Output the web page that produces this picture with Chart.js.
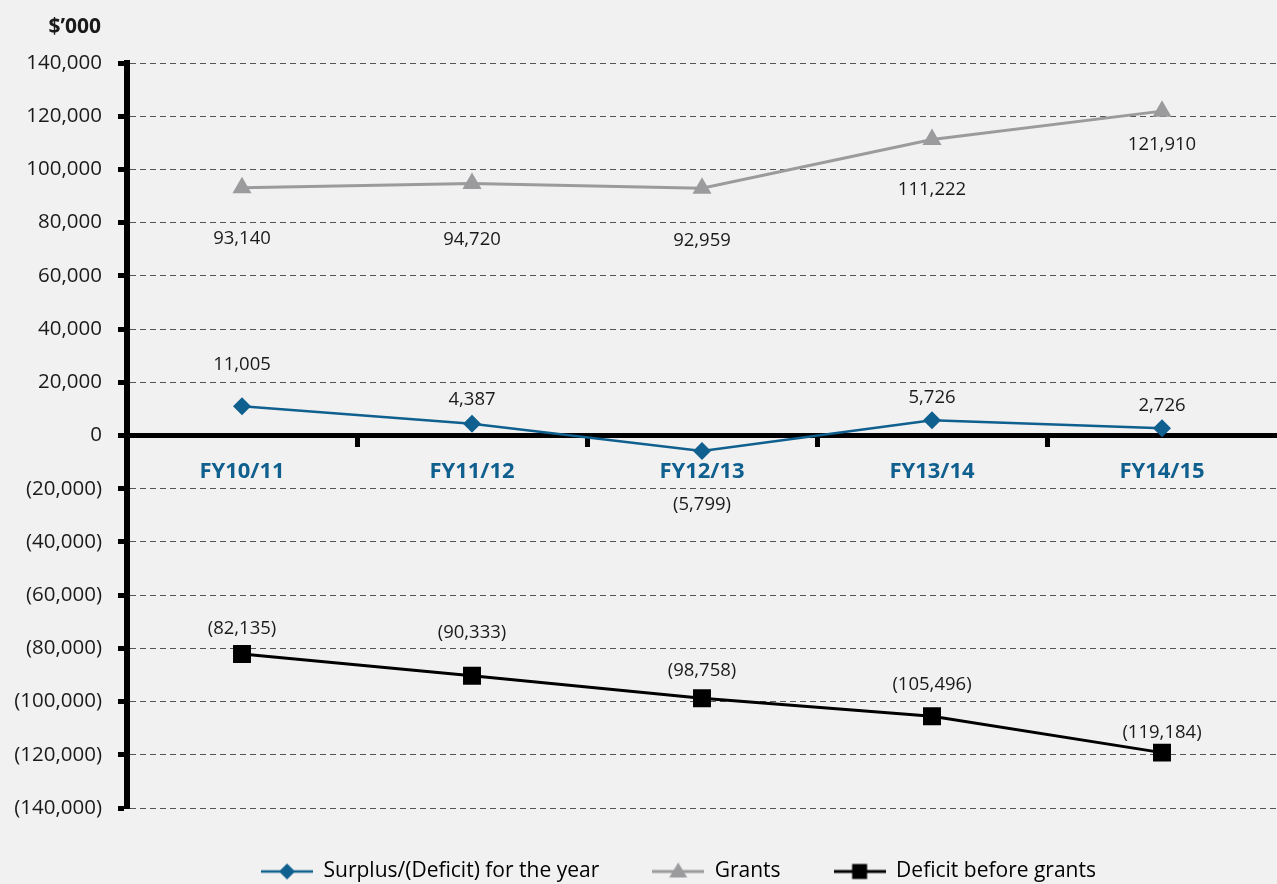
<!DOCTYPE html>
<html>
<head>
<meta charset="utf-8">
<script src="https://cdn.jsdelivr.net/npm/chart.js@4.4.0/dist/chart.umd.min.js"></script>
<style>
  html, body { margin: 0; padding: 0; background: #f1f1f1; overflow: hidden; }
  #wrap { width: 1277px; height: 884px; position: relative; }
</style>
</head>
<body>
<div id="wrap"><canvas id="chart"></canvas></div>
<script>
// --------------------
// Data ($'000)
// --------------------
const years = ["FY10/11", "FY11/12", "FY12/13", "FY13/14", "FY14/15"];
const surplus = [11005, 4387, -5799, 5726, 2726];
const grants = [93140, 94720, 92959, 111222, 121910];
const deficitBeforeGrants = [-82135, -90333, -98758, -105496, -119184];
const seriesNames = ["Surplus/(Deficit) for the year", "Grants", "Deficit before grants"];
const yMin = -140000, yMax = 140000, yStep = 20000;
const unitLabel = "$\u2019000";

// --------------------
// Look
// --------------------
const FONT = "'Open Sans', sans-serif";
const BLUE = "#0f5f8f";
const GREY = "#9b9b9d";
const BLACK = "#000000";
const TEXT = "#1a1a1a";

// vertical nudge of each value label from its point (per series)
const labelShift = [
  [-41, -24, 54, -23, -23],
  [51, 56, 53, 50, 34],
  [-25, -43, -28, -31, -20]
];

Chart.defaults.font.family = FONT;

// numbers as in annual reports: negatives in brackets
function fmt(v) {
  const s = Math.abs(v).toLocaleString("en-US");
  return v < 0 ? "(" + s + ")" : s;
}

// --------------------
// Legend symbols: line with marker in the middle
// --------------------
function legendSymbol(color, shape, lw) {
  const c = document.createElement("canvas");
  c.width = 52; c.height = 24;
  const g = c.getContext("2d");
  g.strokeStyle = color; g.fillStyle = color; g.lineWidth = lw;
  g.beginPath(); g.moveTo(0, 12); g.lineTo(52, 12); g.stroke();
  g.beginPath();
  if (shape === "diamond") {
    g.moveTo(26, 4); g.lineTo(34, 12); g.lineTo(26, 20); g.lineTo(18, 12);
  } else if (shape === "triangle") {
    g.moveTo(26, 3); g.lineTo(35, 18); g.lineTo(17, 18);
  } else {
    g.rect(18.5, 4.5, 15, 15);
  }
  g.closePath(); g.fill();
  return c;
}
const legendIcons = [
  legendSymbol(BLUE, "diamond", 2.5),
  legendSymbol(GREY, "triangle", 3),
  legendSymbol(BLACK, "square", 3)
];

// --------------------
// Value labels + unit caption
// --------------------
const labelPlugin = {
  id: "valueLabels",
  afterLayout(chart) {
    // legend in the original sits right of centre
    chart.legend.left += 40;
    chart.legend.right += 40;
  },
  afterDatasetsDraw(chart) {
    const ctx = chart.ctx;
    ctx.save();
    ctx.font = "18.5px " + FONT;
    ctx.fillStyle = TEXT;
    ctx.textAlign = "center";
    ctx.textBaseline = "middle";
    chart.data.datasets.forEach((ds, i) => {
      chart.getDatasetMeta(i).data.forEach((pt, j) => {
        ctx.fillText(fmt(ds.data[j]), pt.x, pt.y + labelShift[i][j]);
      });
    });
    ctx.font = "bold 21px " + FONT;
    ctx.textAlign = "right";
    ctx.fillText(unitLabel, chart.scales.y.right - 26, 27);
    ctx.restore();
  }
};

// --------------------
// Chart
// --------------------
new Chart(document.getElementById("chart"), {
  type: "line",
  data: {
    labels: years,
    datasets: [
      {
        label: seriesNames[0], data: surplus,
        borderColor: BLUE, backgroundColor: BLUE, borderWidth: 2.5,
        pointStyle: "rectRot", pointRadius: 9, pointHoverRadius: 9, pointBorderWidth: 0,
        tension: 0
      },
      {
        label: seriesNames[1], data: grants,
        borderColor: GREY, backgroundColor: GREY, borderWidth: 3,
        pointStyle: "triangle", pointRadius: 11, pointHoverRadius: 11, pointBorderWidth: 0,
        tension: 0
      },
      {
        label: seriesNames[2], data: deficitBeforeGrants,
        borderColor: BLACK, backgroundColor: BLACK, borderWidth: 3,
        pointStyle: "rect", pointRadius: 12.7, pointHoverRadius: 12.7, pointBorderWidth: 0,
        tension: 0
      }
    ]
  },
  options: {
    responsive: true,
    maintainAspectRatio: false,
    animation: false,
    layout: { autoPadding: false, padding: { top: 63, left: 0, right: 0, bottom: 0 } },
    plugins: {
      tooltip: { enabled: false },
      legend: {
        position: "bottom",
        maxHeight: 76,
        labels: {
          usePointStyle: true,
          pointStyleWidth: 52,
          padding: 53,
          color: TEXT,
          font: { size: 21 },
          generateLabels: chart => chart.data.datasets.map((ds, i) => ({
            text: ds.label,
            pointStyle: legendIcons[i],
            fillStyle: ds.borderColor,
            strokeStyle: ds.borderColor,
            lineWidth: 0,
            hidden: false,
            datasetIndex: i
          }))
        }
      }
    },
    scales: {
      x: {
        position: { y: 0 },
        offset: true,
        grid: {
          offset: true,
          drawOnChartArea: false,
          tickLength: 9,
          tickWidth: 5,
          color: BLACK,
          tickColor: c => (c.type !== "tick" || c.index === 0) ? "rgba(0,0,0,0)" : BLACK
        },
        border: { color: BLACK, width: 5 },
        ticks: {
          padding: 14,
          color: BLUE,
          maxRotation: 0,
          autoSkip: false,
          font: { size: 22, weight: "bold" }
        }
      },
      y: {
        min: yMin,
        max: yMax,
        afterFit: scale => { scale.width = 127; },
        ticks: {
          stepSize: yStep,
          padding: 16,
          color: TEXT,
          font: { size: 20.5 },
          callback: v => fmt(v)
        },
        grid: {
          color: c => (c.tick && c.tick.value === 0) ? "rgba(0,0,0,0)" : "#555555",
          lineWidth: 1,
          tickLength: 9,
          tickWidth: 5,
          tickColor: BLACK
        },
        border: { color: BLACK, width: 6, dash: [6, 4] }
      }
    }
  },
  plugins: [labelPlugin]
});
</script>
</body>
</html>
